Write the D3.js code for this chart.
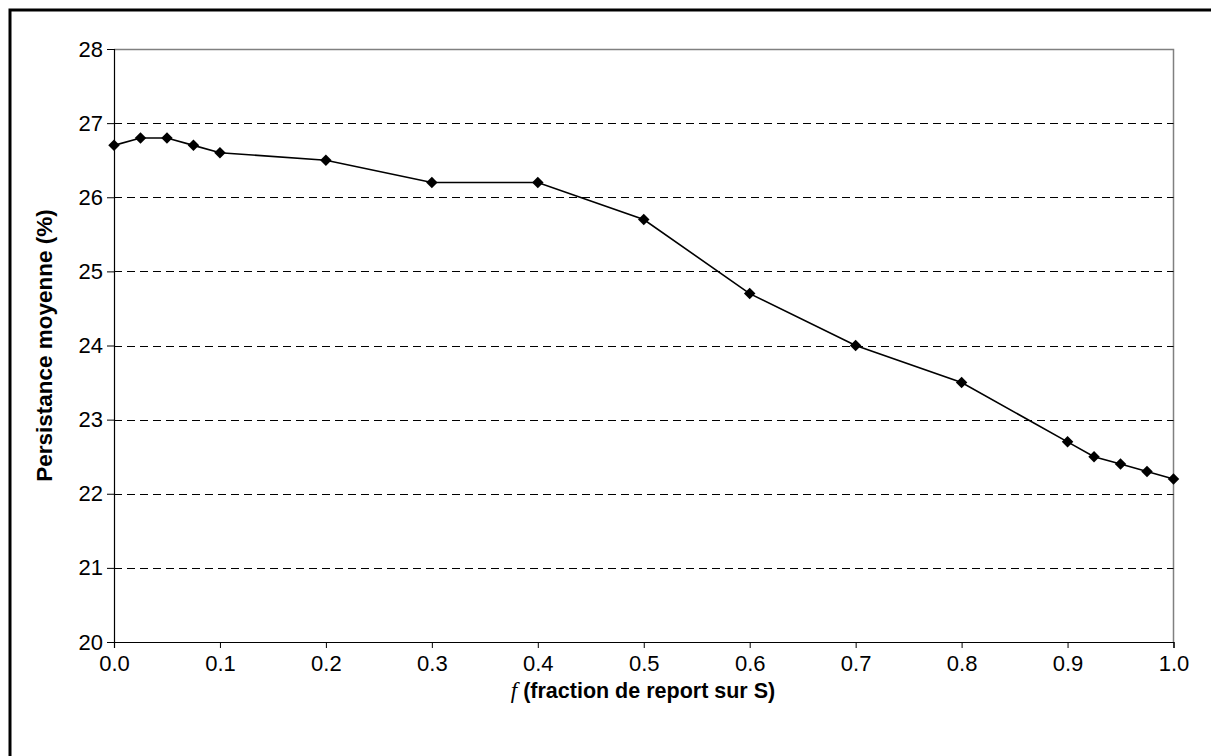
<!DOCTYPE html>
<html>
<head>
<meta charset="utf-8">
<script src="https://cdn.jsdelivr.net/npm/d3@7"></script>
<style>
  html, body { margin: 0; padding: 0; background: #fff; }
  svg { display: block; }
  text { font-family: "Liberation Sans", Arial, sans-serif; fill: #000; }
</style>
</head>
<body>
<svg id="chart" width="1211" height="756"></svg>
<script>
// Fraction f and mean persistence (%)
const fValues = [0, 0.025, 0.05, 0.075, 0.1, 0.2, 0.3, 0.4, 0.5, 0.6, 0.7, 0.8, 0.9, 0.925, 0.95, 0.975, 1.0];
const persistence = [26.7, 26.8, 26.8, 26.7, 26.6, 26.5, 26.2, 26.2, 25.7, 24.7, 24.0, 23.5, 22.7, 22.5, 22.4, 22.3, 22.2];
const xTicks = [0, 0.1, 0.2, 0.3, 0.4, 0.5, 0.6, 0.7, 0.8, 0.9, 1.0];
const yTicks = [20, 21, 22, 23, 24, 25, 26, 27, 28];
const xTitle = "(fraction de report sur S)";
const yTitle = "Persistance moyenne (%)";

const svg = d3.select("#chart");
const plot = { left: 114, right: 1173.5, top: 49, bottom: 642 };
const tickFont = 22;

// Outer frame
svg.append("rect")
  .attr("x", 10).attr("y", 10)
  .attr("width", 1300).attr("height", 900)
  .attr("fill", "none").attr("stroke", "#000").attr("stroke-width", 3);

const x = d3.scaleLinear().domain([0, 1]).range([plot.left, plot.right]);
const y = d3.scaleLinear().domain([20, 28]).range([plot.bottom, plot.top]);

// Plot-area border (top and right, grey)
svg.append("path")
  .attr("d", `M${plot.left},${plot.top + 0.5}H${plot.right}V${plot.bottom}`)
  .attr("fill", "none").attr("stroke", "#808080").attr("stroke-width", 1.5);

// Dashed horizontal gridlines
svg.append("g")
  .selectAll("line")
  .data(yTicks.filter(d => d > 20 && d < 28))
  .join("line")
  .attr("x1", plot.left).attr("x2", plot.right)
  .attr("y1", d => Math.round(y(d)) + 0.5).attr("y2", d => Math.round(y(d)) + 0.5)
  .attr("stroke", "#000").attr("stroke-width", 1)
  .attr("stroke-dasharray", "8,5");

// Y axis
const yAxis = svg.append("g")
  .attr("transform", `translate(${plot.left},0)`)
  .call(d3.axisLeft(y).tickValues(yTicks).tickFormat(d3.format("d")).tickSize(7).tickPadding(4));
yAxis.select(".domain").attr("stroke", "#000").attr("stroke-width", 1.2);
yAxis.selectAll(".tick line").attr("stroke", "#000");
yAxis.selectAll("text").attr("font-size", tickFont).style("font-family", "'Liberation Sans', Arial, sans-serif");

// X axis
const xAxis = svg.append("g")
  .attr("transform", `translate(0,${plot.bottom})`)
  .call(d3.axisBottom(x).tickValues(xTicks).tickFormat(d3.format(".1f")).tickSize(6).tickPadding(7));
xAxis.select(".domain").attr("stroke", "#000").attr("stroke-width", 1.2);
xAxis.selectAll(".tick line").attr("stroke", "#000");
xAxis.selectAll("text").attr("font-size", tickFont).style("font-family", "'Liberation Sans', Arial, sans-serif");

// Series line
const line = d3.line().x((d, i) => x(fValues[i])).y(d => y(d));
svg.append("path")
  .datum(persistence)
  .attr("d", line)
  .attr("fill", "none").attr("stroke", "#000").attr("stroke-width", 1.6);

// Diamond markers
const diamond = d3.symbol().type(d3.symbolDiamond2).size(84);
svg.append("g")
  .selectAll("path")
  .data(persistence)
  .join("path")
  .attr("d", diamond)
  .attr("transform", (d, i) => `translate(${x(fValues[i])},${y(d)})`)
  .attr("fill", "#000");

// X axis title
const xt = svg.append("text")
  .attr("x", 643)
  .attr("y", 698)
  .attr("text-anchor", "middle")
  .attr("font-size", 21.5).attr("font-weight", "bold");
xt.append("tspan")
  .attr("font-family", "'Liberation Serif', 'Times New Roman', serif")
  .attr("font-style", "italic").attr("font-weight", "normal")
  .attr("font-size", 23)
  .text("f");
xt.append("tspan").text(" " + xTitle);

// Y axis title
svg.append("text")
  .attr("transform", `translate(52,${(plot.top + plot.bottom) / 2}) rotate(-90)`)
  .attr("text-anchor", "middle")
  .attr("font-size", 22.5).attr("font-weight", "bold")
  .text(yTitle);
</script>
</body>
</html>
